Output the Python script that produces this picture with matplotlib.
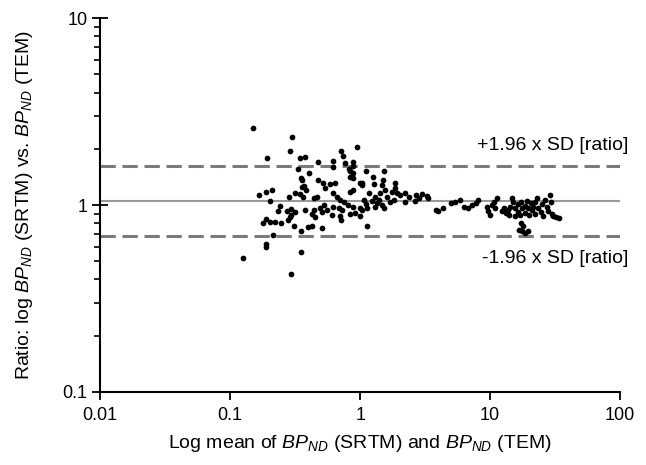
import matplotlib
matplotlib.use("Agg")
import matplotlib.pyplot as plt
from matplotlib.ticker import LogLocator, FixedLocator, FixedFormatter, NullFormatter

plt.rcParams['font.family'] = ['Liberation Sans', 'DejaVu Sans']
plt.rcParams['mathtext.fontset'] = 'custom'
plt.rcParams['mathtext.rm'] = 'Liberation Sans'
plt.rcParams['mathtext.it'] = 'Liberation Sans:italic'

# log mean of BPND (SRTM) and BPND (TEM)
mean_bp = [
    0.126, 0.150, 0.301, 0.288, 0.193, 0.344, 0.333, 0.353, 0.358, 0.166,
    0.188, 0.211, 0.204, 0.283, 0.315, 0.344, 0.241, 0.234, 0.276, 0.296,
    0.315, 0.293, 0.288, 0.279, 0.190, 0.202, 0.179, 0.221, 0.245, 0.311,
    0.353, 0.214, 0.190, 0.190, 0.353, 0.296,
    0.711, 0.953, 0.378, 0.478, 0.617, 0.744, 0.888, 0.888, 0.623, 0.407,
    0.838, 0.356, 0.478, 0.522, 0.588, 0.642, 0.838, 1.00, 0.371, 0.384,
    0.538, 0.623, 0.838, 0.888, 0.366, 0.443, 0.465, 0.669, 0.702, 0.753,
    0.378, 0.443, 0.492, 0.529, 0.554, 0.623, 0.693, 0.723, 0.813, 0.888,
    1.00, 0.425, 0.507, 0.606, 0.702, 0.838, 0.915, 0.451, 0.711, 1.00,
    0.400, 0.425, 0.507,
    0.767, 0.828, 0.879, 0.888, 1.03,
    1.11, 1.52, 1.25, 1.50, 1.87, 1.04, 1.27, 1.46, 1.87, 1.55,
    1.76, 1.93, 1.17, 1.43, 2.04, 2.23, 2.70, 3.00, 3.28, 1.31,
    1.61, 1.82, 2.37, 2.83, 1.07, 1.24, 1.39, 1.71, 2.23, 2.66,
    1.10, 1.35, 1.48, 1.04, 1.13, 1.31, 1.52, 1.13, 3.80, 3.35,
    4.00, 4.30, 5.01, 5.38, 5.88, 6.34, 6.81, 7.23, 7.77, 8.13,
    9.43, 9.70, 10.0, 10.3, 10.8, 11.3, 10.9, 12.3, 12.7, 13.2,
    13.7, 14.0, 14.3, 14.7, 15.1, 15.6, 15.6, 16.3, 16.5, 17.0,
    17.3, 17.7, 18.4, 18.6, 19.2, 19.7, 20.0, 20.7, 20.9, 21.5,
    22.2, 22.2, 22.9, 23.5, 24.7, 25.0, 25.7, 26.5, 27.3, 28.1,
    28.9, 29.5, 29.8, 30.7, 32.0, 33.9, 17.3, 18.0, 17.7, 18.6,
    19.5, 16.7,
]

# ratio BPND (SRTM) / BPND (TEM)
ratio_bp = [
    0.52, 2.57, 2.32, 1.94, 1.79, 1.78, 1.55, 1.39, 1.25, 1.13,
    1.18, 1.20, 1.05, 1.11, 1.16, 1.14, 0.99, 0.93, 0.93, 0.95,
    0.92, 0.89, 0.86, 0.83, 0.84, 0.81, 0.80, 0.81, 0.80, 0.77,
    0.73, 0.69, 0.62, 0.60, 0.56, 0.43,
    1.95, 2.05, 1.80, 1.71, 1.73, 1.83, 1.71, 1.62, 1.60, 1.49,
    1.53, 1.37, 1.37, 1.31, 1.29, 1.31, 1.42, 1.31, 1.26, 1.20,
    1.23, 1.16, 1.18, 1.20, 1.11, 1.09, 1.11, 1.11, 1.06, 1.04,
    0.94, 0.94, 0.97, 1.00, 0.94, 0.98, 0.97, 0.94, 1.00, 0.98,
    0.96, 0.90, 0.92, 0.88, 0.87, 0.90, 0.91, 0.86, 0.83, 0.87,
    0.76, 0.77, 0.75,
    1.67, 1.55, 1.48, 1.39, 1.31,
    1.53, 1.53, 1.41, 1.36, 1.32, 1.28, 1.29, 1.28, 1.24, 1.21,
    1.18, 1.16, 1.16, 1.16, 1.13, 1.16, 1.13, 1.15, 1.12, 1.11,
    1.11, 1.07, 1.10, 1.09, 1.06, 1.05, 1.06, 1.04, 1.04, 1.05,
    1.01, 1.02, 1.00, 0.94, 0.96, 0.98, 0.96, 0.77, 0.94, 1.09,
    0.93, 0.96, 1.03, 1.04, 1.06, 0.98, 0.96, 1.00, 1.03, 1.06,
    0.98, 0.93, 0.88, 1.00, 1.04, 1.09, 0.96, 0.93, 0.96, 0.91,
    0.94, 0.88, 0.98, 1.09, 1.04, 0.96, 0.87, 1.01, 0.92, 0.88,
    1.04, 0.96, 0.99, 0.91, 1.05, 0.96, 0.88, 1.02, 0.94, 0.98,
    1.04, 0.90, 1.09, 0.96, 0.92, 1.01, 0.87, 1.06, 0.98, 0.93,
    1.13, 1.04, 0.90, 0.87, 0.86, 0.85, 0.80, 0.77, 0.73, 0.71,
    0.73, 0.74,
]

mean_ratio = 1.05
upper_loa = 1.62
lower_loa = 0.68

x_ticks = [0.01, 0.1, 1, 10, 100]
x_labels = ["0.01", "0.1", "1", "10", "100"]
y_ticks = [0.1, 1, 10]
y_labels = ["0.1", "1", "10"]

fig = plt.figure(figsize=(6.46, 4.65), dpi=100)
ax = fig.add_axes([0.155, 0.157, 0.805, 0.804])

ax.axhline(mean_ratio, color="#9a9a9a", lw=1.5, zorder=1)
ax.axhline(upper_loa, color="#7a7a7a", lw=2.2, dashes=(5, 2.2), zorder=1)
ax.axhline(lower_loa, color="#7a7a7a", lw=2.2, dashes=(5, 2.2), zorder=1)

ax.scatter(mean_bp, ratio_bp, s=17, color="black", linewidths=0, zorder=3)

ax.set_xscale("log")
ax.set_yscale("log")
ax.set_xlim(0.01, 100)
ax.set_ylim(0.1, 10)

ax.xaxis.set_major_locator(FixedLocator(x_ticks))
ax.xaxis.set_major_formatter(FixedFormatter(x_labels))
ax.xaxis.set_minor_locator(FixedLocator([]))
ax.yaxis.set_major_locator(FixedLocator(y_ticks))
ax.yaxis.set_major_formatter(FixedFormatter(y_labels))
ax.yaxis.set_minor_locator(LogLocator(base=10, subs=range(2, 10)))
ax.yaxis.set_minor_formatter(NullFormatter())

ax.tick_params(axis="x", which="major", direction="out", length=6, width=1.3,
               labelsize=13, pad=5)
ax.tick_params(axis="y", which="major", direction="inout", length=12, width=1.3,
               labelsize=13, pad=3)
ax.tick_params(axis="y", which="minor", direction="out", length=4, width=1.2)

for side in ["top", "right"]:
    ax.spines[side].set_visible(False)
for side in ["left", "bottom"]:
    ax.spines[side].set_linewidth(1.5)

ax.set_xlabel(r"Log mean of $BP_{ND}$ (SRTM) and $BP_{ND}$ (TEM)", fontsize=14, labelpad=6)
ax.set_ylabel(r"Ratio: log $BP_{ND}$ (SRTM) vs. $BP_{ND}$ (TEM)", fontsize=14, labelpad=20)

ax.text(1.015, 0.660, "+1.96 x SD [ratio]", transform=ax.transAxes, ha="right",
        va="center", fontsize=14, clip_on=False)
ax.text(1.015, 0.358, "-1.96 x SD [ratio]", transform=ax.transAxes, ha="right",
        va="center", fontsize=14, clip_on=False)

fig.savefig("out.png", dpi=100)
